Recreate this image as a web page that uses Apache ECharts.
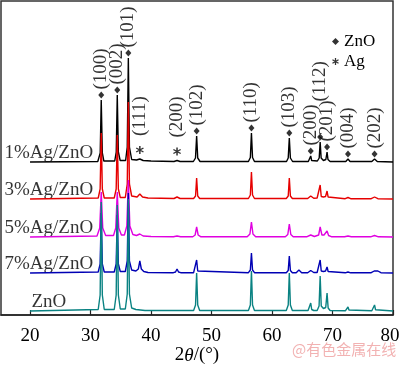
<!DOCTYPE html>
<html><head><meta charset="utf-8">
<script src="https://cdn.jsdelivr.net/npm/echarts@6/dist/echarts.min.js"></script>
<style>html,body{margin:0;padding:0;background:#fff}#c{width:400px;height:365px}</style>
</head><body><div id="c"></div>
<script>
// ---- data (2θ in degrees, intensity in arbitrary units) ----
const sampleLabels = ['1%Ag/ZnO', '3%Ag/ZnO', '5%Ag/ZnO', '7%Ag/ZnO', 'ZnO'];
const seriesNames = ['1%Ag/ZnO', '3%Ag/ZnO', '5%Ag/ZnO', '7%Ag/ZnO', 'ZnO sample'];
const baselineOffsets = [153, 116, 78, 42, 4];

const pattern1 = [[20,0],[31.2,0.5],[31.6,9],[31.77,62],[31.95,9],[32.2,1],
 [34.0,1],[34.25,10],[34.42,67],[34.6,10],[34.9,1.5],
 [35.8,1.5],[36.07,15],[36.25,104],[36.43,15],[36.8,2.5],
 [37.6,2],[38.15,3],[38.7,1.5],[40,1],
 [43.8,0.5],[44.3,1.5],[44.8,0.5],
 [47.0,0.5],[47.35,4],[47.54,26],[47.72,4],[48.1,0.5],
 [56.1,0.5],[56.42,4.5],[56.6,29],[56.78,4.5],[57.1,0.5],
 [62.4,0.5],[62.68,4],[62.86,24],[63.04,4],[63.4,0.5],
 [66.0,0.5],[66.25,1.5],[66.4,6],[66.55,1.5],[66.8,1],
 [67.5,1],[67.8,4],[67.96,20],[68.12,4],[68.5,1.5],[68.9,2.5],[69.1,10],[69.25,2.5],[69.6,0.5],
 [72.2,0.5],[72.56,3],[72.9,0.5],
 [76.5,0.5],[76.95,3],[77.4,0.5],[80,0]];

const pattern3 = [[20,0],[31.27,1],[31.59,10],[31.77,66],[31.95,10],[32.27,1],
 [33.92,1],[34.24,10],[34.42,64],[34.6,10],[34.92,1.5],
 [35.75,1.5],[36.07,15],[36.25,97],[36.43,15],[36.8,3],
 [37.7,2],[38.15,5],[38.6,2],[39.5,1],
 [43.8,0.5],[44.3,2],[44.8,0.5],
 [47.04,0.5],[47.36,3],[47.54,21],[47.72,3],[48.04,0.5],
 [56.1,0.5],[56.42,4],[56.6,27],[56.78,4],[57.1,0.5],
 [62.36,0.5],[62.68,3],[62.86,21],[63.04,3],[63.36,0.5],
 [65.9,0.5],[66.4,3],[66.9,0.8],
 [67.46,1],[67.78,2.5],[67.96,14],[68.14,2.5],[68.5,2],[68.85,2.5],[69.1,8],[69.28,2],[69.6,0.5],
 [72.1,0.3],[72.56,1.5],[73,0.3],
 [76.4,0.3],[76.95,2],[77.5,0.3],[80,0]];

const pattern5 = [[20,0],[31.07,1],[31.52,9],[31.77,45],[32.02,9],[32.5,1.5],
 [33.8,1.5],[34.17,9],[34.42,45],[34.67,9],[35.1,2],
 [35.6,2],[36.0,11],[36.25,57],[36.5,11],[37,2.5],
 [37.6,1.5],[38.15,3],[38.7,1],[40,0.5],
 [43.7,0.3],[44.3,1],[44.9,0.3],
 [46.9,0.3],[47.29,2],[47.54,10],[47.79,2],[48.2,0.3],
 [55.9,0.3],[56.35,3],[56.6,15],[56.85,3],[57.3,0.3],
 [62.2,0.3],[62.61,2.5],[62.86,13],[63.11,2.5],[63.5,0.3],
 [65.8,0.3],[66.4,2],[67,0.5],
 [67.3,0.5],[67.71,2],[67.96,10],[68.25,2],[68.6,2],[68.85,2.5],[69.1,6],[69.35,1.5],[69.8,0.3],
 [72,0.2],[72.56,1],[73.1,0.2],
 [76.3,0.2],[76.95,1.5],[77.6,0.2],[80,0]];

const pattern7 = [[20,0],[31.27,1],[31.59,9],[31.77,60],[31.95,9],[32.27,1],
 [33.92,1],[34.24,9],[34.42,58],[34.6,9],[34.92,1.5],
 [35.75,1.5],[36.07,12],[36.25,80],[36.43,12],[36.8,3],
 [37.5,2],[37.9,4],[38.15,12],[38.4,4],[38.8,1.5],[39.5,0.5],
 [43.7,0.3],[44.05,1],[44.3,4],[44.55,1],[44.9,0.3],
 [47.04,0.3],[47.36,2],[47.54,13],[47.72,2],[48.04,0.3],
 [56.1,0.3],[56.42,3],[56.6,20],[56.78,3],[57.1,0.3],
 [62.36,0.3],[62.68,2.5],[62.86,17],[63.04,2.5],[63.36,0.3],
 [64.0,0.3],[64.45,3],[64.9,0.3],
 [65.9,0.3],[66.4,2.5],[66.9,0.5],
 [67.46,0.5],[67.78,2],[67.96,13],[68.14,2],[68.5,1.5],[68.85,2],[69.1,6],[69.28,1.5],[69.6,0.3],
 [72.1,0.2],[72.56,1],[73,0.2],
 [76.4,0.3],[76.9,2],[77.2,2.5],[77.5,2],[78,0.3],[80,0]];

const patternZnO = [[20,0],[31.27,1.5],[31.59,16],[31.77,109],[31.95,16],[32.27,1.5],
 [33.92,1.5],[34.24,16],[34.42,106],[34.6,16],[34.92,2],
 [35.75,2],[36.07,17],[36.25,112],[36.43,17],[36.8,3],
 [37.5,1.5],[39,0.5],
 [47.04,0.5],[47.36,6],[47.54,38],[47.72,6],[48.04,0.5],
 [56.1,0.5],[56.42,6],[56.6,40],[56.78,6],[57.1,0.5],
 [62.36,0.5],[62.68,6],[62.86,38],[63.04,6],[63.36,0.5],
 [65.96,0.5],[66.24,1.5],[66.4,8],[66.56,1.5],[66.9,0.5],
 [67.46,0.5],[67.78,5],[67.96,35],[68.14,5],[68.5,2.5],[68.88,3.5],[69.1,18],[69.28,3],[69.6,0.5],
 [72.15,0.3],[72.4,1],[72.56,4],[72.72,1],[73,0.3],
 [76.5,0.3],[76.78,1.2],[76.95,6],[77.12,1.2],[77.4,0.3],[80,0]];

const patterns = [pattern1, pattern3, pattern5, pattern7, patternZnO];

// peak annotations (placed above the 1%Ag/ZnO pattern)
const znoPeaks = [31.77, 34.42, 36.25, 47.54, 56.6, 62.86, 66.4, 67.96, 69.1, 72.56, 76.95];
const znoHkl = ['(100)','(002)','(101)','(102)','(110)','(103)','(200)','(112)','(201)','(004)','(202)'];
const agPeaks = [38.15, 44.3];
const agHkl = ['(111)','(200)'];

const xTickValues = [20, 30, 40, 50, 60, 70, 80];

// ---- styling / layout ----
const colors = ['#000000', '#e60000', '#e000e0', '#0000b4', '#0a8282'];
const serif = 'Liberation Serif, Times New Roman, serif';
const asteriskPath = 'path://M-0.9,-5L0.9,-5L0.9,5L-0.9,5ZM4.78,1.72L3.88,3.28L-4.78,-1.72L-3.88,-3.28ZM-3.88,3.28L-4.78,1.72L3.88,-3.28L4.78,-1.72Z';

function peakTop(pattern, pos) {
  let m = 0;
  pattern.forEach(p => { if (Math.abs(p[0] - pos) < 0.25 && p[1] > m) m = p[1]; });
  return m;
}

const lineSeries = patterns.map((pat, i) => ({
  name: seriesNames[i],
  type: 'line',
  showSymbol: false,
  silent: true,
  lineStyle: { color: colors[i], width: 1.4 },
  itemStyle: { color: colors[i] },
  data: pat.map(p => [p[0], p[1] + baselineOffsets[i]])
}));

const labelX = 23.1;
const sampleLabelSeries = {
  type: 'scatter', silent: true, symbolSize: 0,
  data: sampleLabels.map((t, i) => ({ value: [labelX, baselineOffsets[i]], name: t })),
  label: { show: true, formatter: p => p.name, position: 'inside', offset: [0, -9],
           fontFamily: serif, fontSize: 19, color: '#000' }
};

const annoLabel = { show: true, position: 'top', rotate: 90, align: 'left', verticalAlign: 'middle',
  distance: 2, fontFamily: serif, fontSize: 19, color: '#000', formatter: p => p.name };

const znoSeries = {
  name: 'ZnO', type: 'scatter', silent: true, symbol: 'diamond', symbolSize: [6, 7],
  itemStyle: { color: '#000' },
  data: znoPeaks.map((x, k) => {
    const d = { value: [x, peakTop(pattern1, x) + baselineOffsets[0] + 5], name: znoHkl[k] };
    if (znoHkl[k] === '(112)') d.label = { distance: 32 };
    return d;
  }),
  label: annoLabel
};

const agSeries = {
  name: 'Ag', type: 'scatter', silent: true, symbol: asteriskPath, symbolSize: [8, 8],
  itemStyle: { color: '#000' },
  data: agPeaks.map((x, k) => ({ value: [x, peakTop(pattern1, x) + baselineOffsets[0] + 9], name: agHkl[k] })),
  label: Object.assign({}, annoLabel, { distance: 10 })
};

const chart = echarts.init(document.getElementById('c'), null, { renderer: 'canvas' });
chart.setOption({
  animation: false,
  backgroundColor: '#fff',
  grid: { left: 1, right: 7, top: 1, bottom: 50, show: true, borderColor: '#333', borderWidth: 1.5,
          outerBoundsMode: 'none', containLabel: false },
  legend: {
    orient: 'vertical', left: 327, top: 28, itemWidth: 7, itemHeight: 7, itemGap: 3,
    selectedMode: false,
    textStyle: { fontFamily: serif, fontSize: 17, color: '#000' },
    data: [{ name: 'ZnO', icon: 'diamond' }, { name: 'Ag', icon: asteriskPath }]
  },
  xAxis: {
    type: 'value', min: 15.2, max: 80,
    name: '2{i|θ}/(°)', nameLocation: 'middle', nameGap: 31, nameMoveOverlap: false,
    nameTextStyle: { fontFamily: serif, fontSize: 19, color: '#000',
      rich: { i: { fontFamily: serif, fontSize: 19, fontStyle: 'italic', color: '#000' } } },
    axisLine: { show: true, lineStyle: { color: '#222', width: 1.5 } },
    axisTick: { show: true, inside: true, length: 5, customValues: xTickValues, lineStyle: { color: '#222', width: 1.2 } },
    axisLabel: { customValues: xTickValues, margin: 12, fontFamily: serif, fontSize: 19, color: '#000',
      formatter: v => (v === 80 ? '{r|80}' : String(v)),
      rich: { r: { fontFamily: serif, fontSize: 19, color: '#000', padding: [0, 6, 0, 0] } } },
    splitLine: { show: false }
  },
  yAxis: {
    type: 'value', min: 0, max: 314,
    axisLine: { show: false }, axisTick: { show: false }, axisLabel: { show: false }, splitLine: { show: false }
  },
  graphic: [{
    type: 'text', left: 292, top: 342, silent: true,
    style: { text: '@有色金属在线', font: '15px "Noto Sans CJK SC"', fill: '#f2b2b2' }
  }],
  series: [...lineSeries, sampleLabelSeries, znoSeries, agSeries]
});
</script>
</body></html>
